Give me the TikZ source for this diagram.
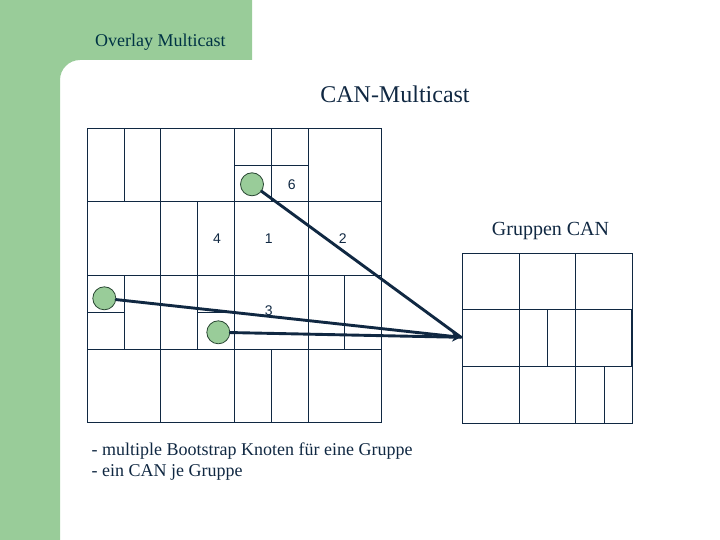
\documentclass[tikz,border=0pt]{standalone}
\usepackage{fontspec}
\setmainfont{Liberation Serif}
\newfontfamily\numfont{Liberation Sans}
\usepackage{xcolor}
\usetikzlibrary{arrows.meta,positioning}
\definecolor{bggreen}{RGB}{153,204,153}
\definecolor{navy}{RGB}{16,40,66}
\definecolor{headteal}{RGB}{0,51,68}
\definecolor{knotline}{RGB}{40,70,50}

\begin{document}
\begin{tikzpicture}[x=1pt, y=-1pt, cell/.style={draw=navy, line width=1.1pt}, knot/.style={circle, draw=knotline, line width=0.8pt, fill=bggreen, minimum size=23pt, inner sep=0pt}, link/.style={draw=navy, line width=2.9pt, line cap=round}, zone/.style={font=\numfont\fontsize{14}{16}\selectfont, text=navy}]
\useasboundingbox (0,0) rectangle (720,540);
% green frame
\fill[bggreen] (0,0) -- (252,0) -- (252,60) -- (80,60) .. controls (69,60) and (60,69) .. (60,80) -- (60,540) -- (0,540) -- cycle;
\node[anchor=base, text=headteal, font=\fontsize{18}{21}\selectfont] (head) at (160.3,46.7) {Overlay Multicast};
\node[anchor=base, text=navy, font=\fontsize{24}{28}\selectfont] (title) at (395,102.3) {CAN-Multicast};
\node[anchor=base, text=navy, font=\fontsize{20}{24}\selectfont] (grptitle) at (550.5,236) {Gruppen CAN};

% bootstrap CAN
\begin{scope}[shift={(87.3,128.3)}, x=36.8pt, y=-36.8pt]
\draw[cell] (0,0) rectangle (8,8);
\foreach \r in {2,4,6} \draw[cell] (0,\r) -- (8,\r);
\draw[cell] (4,1) -- (6,1);
\draw[cell] (0,5) -- (1,5);
\draw[cell] (3,5) -- (4,5);
\foreach \c in {1,2,4,5,6} \draw[cell] (\c,0) -- (\c,2);
\foreach \c in {2,3,4,6} \draw[cell] (\c,2) -- (\c,4);
\foreach \c in {1,2,3,4,6,7} \draw[cell] (\c,4) -- (\c,6);
\foreach \c in {2,4,5,6} \draw[cell] (\c,6) -- (\c,8);
\end{scope}

% group CAN
\begin{scope}[shift={(462.3,253.3)}, x=56.8pt, y=-56.6pt]
\draw[cell] (0,0) rectangle (3,3);
\foreach \r in {1,2} \draw[cell] (0,\r) -- (3,\r);
\foreach \c in {1,2} \draw[cell] (\c,0) -- (\c,3);
\draw[cell] (1.5,1) -- (1.5,2);
\draw[cell] (2.5,2) -- (2.5,3);
\draw[draw=navy, line width=1.8pt] (2.985,1) -- (2.985,2);
\end{scope}

\node[zone] (z6) at (291.7,184.3) {6};
\node[zone] (z4) at (217,239) {4};
\node[zone] (z1) at (268.7,239) {1};
\node[zone] (z2) at (342.7,239) {2};
\node[zone] (z3) at (268.7,310.7) {3};

\node[knot] (bootA) at (252,184.3) {};
\node[knot] (bootB) at (104.3,298.3) {};
\node[knot] (bootC) at (218.3,332.3) {};
\coordinate (entry) at (461,337.3);

\draw[link] (bootA) -- (entry);
\draw[link] (bootB) -- (entry);
\draw[link, -{Stealth[length=9pt, width=9pt]}] (bootC) -- (entry);

\node[anchor=base west, text=navy, font=\fontsize{18}{21}\selectfont] (note1) at (88,455) {- multiple Bootstrap Knoten für eine Gruppe};
\node[anchor=base west, text=navy, font=\fontsize{18}{21}\selectfont] (note2) at ([yshift=-21pt]note1.base west) {- ein CAN je Gruppe};
\end{tikzpicture}
\end{document}
